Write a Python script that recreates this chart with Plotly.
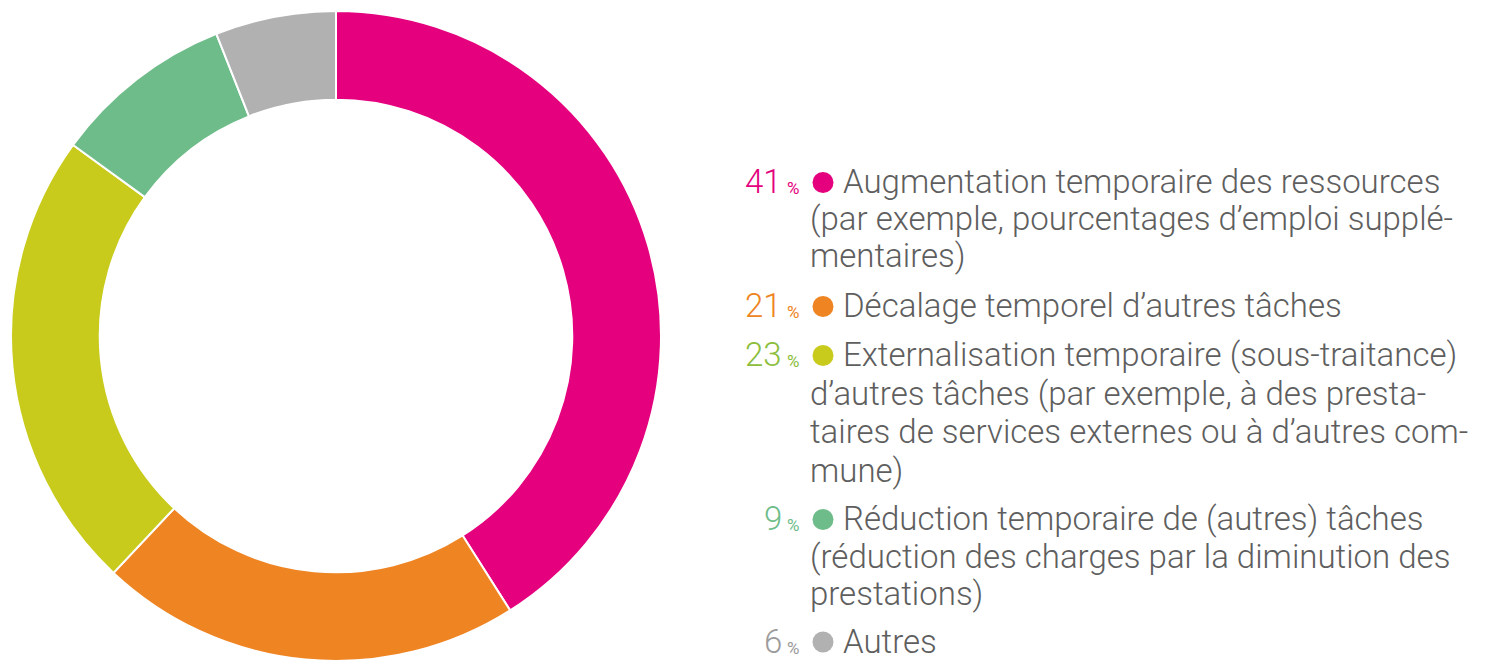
import plotly.graph_objects as go

# ---- data ----
categories = [
    "Augmentation temporaire des ressources (par exemple, pourcentages d’emploi supplémentaires)",
    "Décalage temporel d’autres tâches",
    "Externalisation temporaire (sous-traitance) d’autres tâches (par exemple, à des prestataires de services externes ou à d’autres commune)",
    "Réduction temporaire de (autres) tâches (réduction des charges par la diminution des prestations)",
    "Autres",
]
values = [41, 21, 23, 9, 6]
slice_colors = ["#E5007E", "#EE8422", "#C8CB1B", "#6EBC89", "#B1B1B1"]
pct_colors = ["#E5007E", "#EE8422", "#8CBE3C", "#6EBC89", "#9B9B9B"]
legend_lines = [
    ["Augmentation temporaire des ressources",
     "(par exemple, pourcentages d’emploi supplé-",
     "mentaires)"],
    ["Décalage temporel d’autres tâches"],
    ["Externalisation temporaire (sous-traitance)",
     "d’autres tâches (par exemple, à des presta-",
     "taires de services externes ou à d’autres com-",
     "mune)"],
    ["Réduction temporaire de (autres) tâches",
     "(réduction des charges par la diminution des",
     "prestations)"],
    ["Autres"],
]

# page body has an 8px margin; figure is placed at (8, 8) of the window
OFF = 8
W, H = 1491 - OFF, 661 - OFF
FONT = "Roboto"
TEXT_COLOR = "#5E5E5E"
FS = 33

def px(x):
    return (x - OFF) / W

def py(y):
    return 1 - (y - OFF) / H

R = 325
CX, CY = 336, 336

fig = go.Figure()
fig.add_trace(go.Pie(
    labels=categories,
    values=values,
    hole=0.727,
    sort=False,
    direction="clockwise",
    rotation=0,
    marker=dict(colors=slice_colors, line=dict(color="white", width=2)),
    textinfo="none",
    hoverinfo="label+percent",
    showlegend=False,
    domain=dict(x=[px(CX - R), px(CX + R)], y=[max(0, py(CY + R)), py(CY - R)]),
))

annotations = []
shapes = []
first_baselines = [193, 317, 366, 530, 652.5]
line_gap = [37, 0, 38.5, 37.5, 0]
num_right = 782
pct_left = 787
dot_cx = 823
text_first_x = 843
text_cont_x = 810


def text_ann(x, baseline, text, color, xanchor, size=FS, weight=300):
    return dict(
        x=px(x), y=py(baseline + 0.244 * size), xref="paper", yref="paper",
        xanchor=xanchor, yanchor="bottom", showarrow=False, text=text,
        borderpad=0, borderwidth=0,
        font=dict(family=FONT, size=size, color=color, weight=weight),
    )


for i, lines in enumerate(legend_lines):
    b0 = first_baselines[i]
    annotations.append(text_ann(num_right, b0, str(values[i]),
                                pct_colors[i], "right"))
    annotations.append(text_ann(pct_left, min(b0 + 1, 656), "%",
                                pct_colors[i], "left", size=17, weight=400))
    shapes.append(dict(
        type="circle", xref="paper", yref="paper",
        xsizemode="pixel", ysizemode="pixel",
        xanchor=px(dot_cx), yanchor=py(b0 - 10.5),
        x0=-10.5, x1=10.5, y0=-10.5, y1=10.5,
        fillcolor=slice_colors[i], line=dict(width=0),
    ))
    for j, line in enumerate(lines):
        b = b0 + j * line_gap[i]
        annotations.append(text_ann(text_first_x if j == 0 else text_cont_x,
                                    b, line, TEXT_COLOR, "left"))

fig.update_layout(
    width=W, height=H,
    margin=dict(l=0, r=0, t=0, b=0),
    paper_bgcolor="white",
    plot_bgcolor="white",
    annotations=annotations,
    shapes=shapes,
)

fig.write_html("out.html")
